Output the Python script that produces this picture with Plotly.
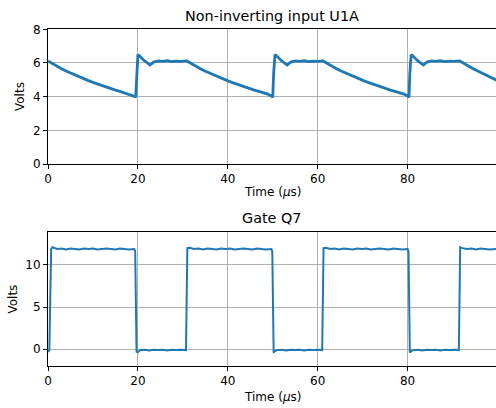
import plotly.graph_objects as go

# ---- Data (time in µs, volts) ----
u1a_time = [0, 1, 2, 3, 4, 5, 6, 7, 8, 9, 10, 11, 12, 13, 14, 15, 16, 17, 18, 19, 19.4,
            19.5, 19.7, 20.0, 20.5, 21.5, 22.7, 23.5, 24.5, 25.5, 26.5, 27.5, 28.5, 29.5, 30.9,
            31.9, 32.9, 33.9, 34.9, 35.9, 36.9, 37.9, 38.9, 39.9, 40.9, 41.9, 42.9, 43.9, 44.9,
            45.9, 46.9, 47.9, 48.9, 49.8,
            50.0, 50.2, 50.5, 51.0, 52.0, 53.2, 54.0, 55.0, 56.0, 57.0, 58.0, 59.0, 60.0, 61.2,
            62.2, 63.2, 64.2, 65.2, 66.2, 67.2, 68.2, 69.2, 70.2, 71.2, 72.2, 73.2, 74.2, 75.2,
            76.2, 77.2, 78.2, 79.2, 80.1,
            80.3, 80.5, 80.8, 81.3, 82.3, 83.5, 84.3, 85.3, 86.3, 87.3, 88.3, 89.3, 90.3, 91.6,
            92.6, 93.6, 94.6, 95.6, 96.6, 97.6, 98.6, 99.8]
u1a_volts = [6.12, 5.95, 5.80, 5.66, 5.52, 5.40, 5.28, 5.16, 5.05, 4.95, 4.85, 4.75, 4.66, 4.57, 4.48, 4.39, 4.31, 4.23, 4.15, 4.07, 4.00,
             3.95, 5.40, 6.50, 6.38, 6.12, 5.88, 6.05, 6.12, 6.09, 6.13, 6.08, 6.11, 6.09, 6.12,
             5.95, 5.80, 5.66, 5.52, 5.40, 5.28, 5.16, 5.05, 4.95, 4.85, 4.75, 4.66, 4.57, 4.48,
             4.39, 4.31, 4.23, 4.15, 4.02,
             3.95, 5.40, 6.50, 6.38, 6.12, 5.88, 6.05, 6.12, 6.09, 6.13, 6.08, 6.11, 6.09, 6.12,
             5.95, 5.80, 5.66, 5.52, 5.40, 5.28, 5.16, 5.05, 4.95, 4.85, 4.75, 4.66, 4.57, 4.48,
             4.39, 4.31, 4.23, 4.15, 4.02,
             3.95, 5.40, 6.50, 6.38, 6.12, 5.88, 6.05, 6.12, 6.09, 6.13, 6.08, 6.11, 6.09, 6.12,
             5.95, 5.80, 5.66, 5.52, 5.40, 5.28, 5.16, 4.98]

q7_time = [0.0, 0.3, 0.7, 1.0, 2, 3, 4, 5, 6, 7, 8, 9, 10, 11, 12, 13, 14, 15, 16, 17, 18, 19.2, 19.4,
           19.7, 20.0, 20.5, 21.5, 22.5, 23.5, 24.5, 25.5, 26.5, 27.5, 28.5, 29.5, 30.7,
           31.0, 31.5, 32.5, 33.5, 34.5, 35.5, 36.5, 37.5, 38.5, 39.5, 40.5, 41.5, 42.5, 43.5,
           44.5, 45.5, 46.5, 47.5, 48.5, 49.7, 49.9,
           50.2, 50.5, 51.0, 52.0, 53.0, 54.0, 55.0, 56.0, 57.0, 58.0, 59.0, 60.0, 61.0,
           61.3, 61.8, 62.8, 63.8, 64.8, 65.8, 66.8, 67.8, 68.8, 69.8, 70.8, 71.8, 72.8, 73.8,
           74.8, 75.8, 76.8, 77.8, 78.8, 80.0, 80.2,
           80.5, 80.8, 81.3, 82.3, 83.3, 84.3, 85.3, 86.3, 87.3, 88.3, 89.3, 90.3, 91.4,
           91.7, 92.2, 93.2, 94.2, 95.2, 96.2, 97.2, 98.2, 99.8]
q7_volts = [-0.3, -0.1, 11.9, 12.1, 11.9, 11.95, 11.85, 11.95, 11.9, 11.85, 11.95, 11.9, 11.95, 11.85, 11.9, 11.95, 11.9, 11.85, 11.95, 11.9, 11.85, 11.9, 11.6,
            -0.3, -0.35, -0.1, -0.05, -0.15, -0.05, -0.1, -0.05, -0.15, -0.05, -0.1, -0.05, -0.1,
            12.0, 12.05, 11.9, 11.95, 11.85, 11.95, 11.9, 11.85, 11.95, 11.9, 11.95, 11.85, 11.9, 11.95,
            11.9, 11.85, 11.95, 11.9, 11.85, 11.9, 11.6,
            -0.4, -0.2, -0.1, -0.05, -0.15, -0.05, -0.1, -0.05, -0.15, -0.05, -0.1, -0.05, -0.1,
            12.0, 12.05, 11.9, 11.95, 11.85, 11.95, 11.9, 11.85, 11.95, 11.9, 11.95, 11.85, 11.9, 11.95,
            11.9, 11.85, 11.95, 11.9, 11.85, 11.9, 11.6,
            -0.4, -0.2, -0.1, -0.05, -0.15, -0.05, -0.1, -0.05, -0.15, -0.05, -0.1, -0.05, -0.1,
            12.1, 12.0, 11.9, 11.95, 11.85, 11.95, 11.9, 11.85, 11.9]

x_ticks = [0, 20, 40, 60, 80]
u1a_y_ticks = [0, 2, 4, 6, 8]
q7_y_ticks = [0, 5, 10]

W, H = 496, 408
FONT = "DejaVu Sans"
BLUE = "#1f77b4"
GRID = "#b0b0b0"

fig = go.Figure()
fig.add_trace(go.Scatter(x=u1a_time, y=u1a_volts, mode="lines",
                         line=dict(color=BLUE, width=2.8), xaxis="x", yaxis="y",
                         showlegend=False, hoverinfo="skip"))
fig.add_trace(go.Scatter(x=q7_time, y=q7_volts, mode="lines",
                         line=dict(color=BLUE, width=2.0), xaxis="x2", yaxis="y2",
                         showlegend=False, hoverinfo="skip"))

L = 47.5
xmax = (W - L) / 4.5

def xa(anchor):
    return dict(domain=[0, 1], range=[0, xmax], anchor=anchor, tickvals=x_ticks,
                showline=True, mirror=True, linecolor="black", linewidth=1,
                ticks="outside", ticklen=4, tickwidth=1, tickcolor="black",
                showgrid=True, gridcolor=GRID, gridwidth=1, zeroline=False,
                automargin=False,
                tickfont=dict(family=FONT, size=12, color="black"))

def ya(anchor, dom, rng, tv):
    return dict(domain=dom, range=rng, anchor=anchor, tickvals=tv,
                showline=True, mirror=False, linecolor="black", linewidth=1,
                ticks="outside", ticklen=4, tickwidth=1, tickcolor="black",
                showgrid=True, gridcolor=GRID, gridwidth=1, zeroline=False,
                automargin=False,
                tickfont=dict(family=FONT, size=12, color="black"))

fig.update_layout(
    template="none",
    width=W, height=H,
    margin=dict(l=L, r=0, t=0, b=0, pad=0, autoexpand=False),
    paper_bgcolor="white", plot_bgcolor="white",
    font=dict(family=FONT, size=12, color="black"),
    xaxis=xa("y"),
    yaxis=ya("x", [1 - 164.0 / H, 1 - 29.3 / H], [0, 8], u1a_y_ticks),
    xaxis2=xa("y2"),
    yaxis2=ya("x2", [1 - 365.7 / H, 1 - 231.7 / H], [-1.95, 13.95], q7_y_ticks),
)

def ann(text, px, py, size=12, angle=0):
    fig.add_annotation(text=text, xref="paper", yref="paper",
                       x=(px - L) / (W - L), y=1 - py / H,
                       xanchor="center", yanchor="middle", showarrow=False,
                       textangle=angle, font=dict(family=FONT, size=size, color="black"))

ann("Non-inverting input U1A", 272, 16, size=14.4)
ann("Gate Q7", 272, 218, size=14.4)
ann("Volts", 19, 96.5, angle=-90)
ann("Volts", 12, 299, angle=-90)
ann("Time (<i>μ</i>s)", 272, 192)
ann("Time (<i>μ</i>s)", 272, 397)

fig.write_html("out.html")
